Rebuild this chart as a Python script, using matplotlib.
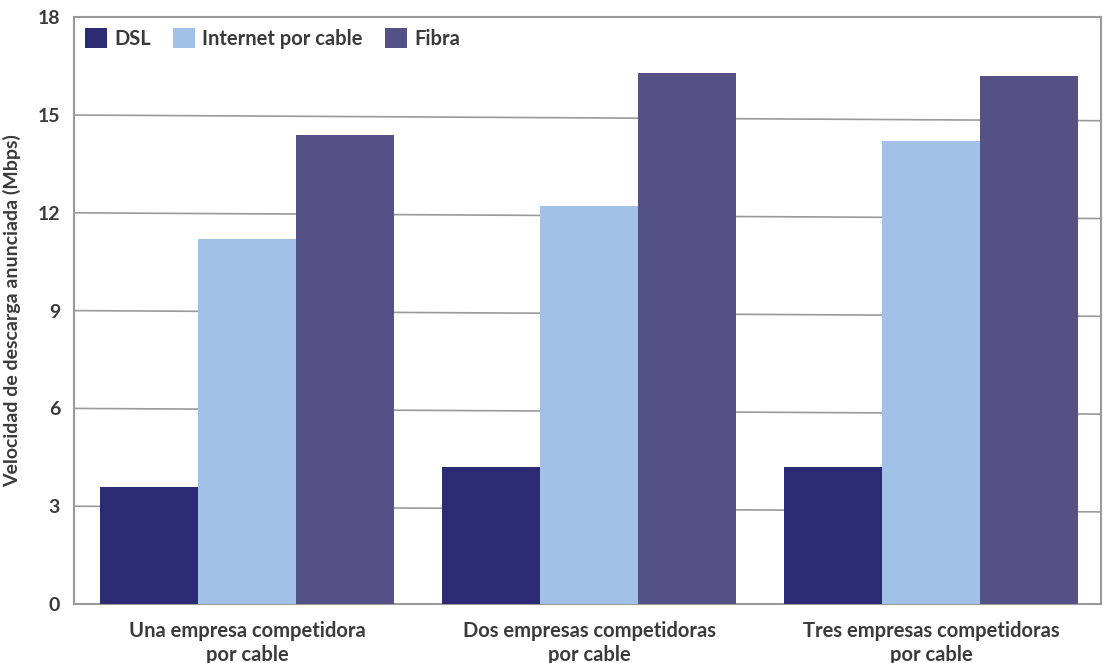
import numpy as np
import matplotlib.pyplot as plt

plt.rcParams['font.family'] = ['Lato', 'DejaVu Sans']
plt.rcParams['font.weight'] = 'bold'
plt.rcParams['axes.labelweight'] = 'bold'

groups = ["Una empresa competidora\npor cable",
          "Dos empresas competidoras\npor cable",
          "Tres empresas competidoras\npor cable"]
series = ["DSL", "Internet por cable", "Fibra"]
dsl = [3.6, 4.2, 4.2]
cable = [11.2, 12.2, 14.2]
fibra = [14.4, 16.3, 16.2]
yticks = [0, 3, 6, 9, 12, 15, 18]

colors = ["#2b2a72", "#a2c1e6", "#545186"]
text_color = "#3a3a3a"
grid_color = "#9a9a9a"

fig = plt.figure(figsize=(11.04, 6.63), dpi=100)
ax = fig.add_axes([0.067, 0.089, 0.9303, 0.885])

x = np.arange(len(groups))
w = 0.2865
for i, (vals, name, c) in enumerate(zip([dsl, cable, fibra], series, colors)):
    ax.bar(x + (i - 1) * w, vals, width=w, color=c, label=name, zorder=3)

# horizontal guide lines (drawn slightly tilted)
tr = ax.get_yaxis_transform()
for v in yticks[1:-1]:
    ax.plot([0, 1], [v, v - 0.175], transform=tr, color=grid_color,
            lw=1.2, zorder=1, clip_on=False)

ax.set_xlim(-0.506, 2.497)
ax.set_ylim(0, 18)
ax.set_yticks(yticks)
ax.set_xticks(x)
ax.set_xticklabels(groups, fontsize=14.5, color=text_color, linespacing=1.25,
                   fontweight='bold')
ax.tick_params(axis='y', length=0, pad=10, labelsize=14, labelcolor=text_color)
ax.tick_params(axis='x', length=0, pad=12)
for s in ax.spines.values():
    s.set_color(grid_color)
    s.set_linewidth(1.5)

ax.set_ylabel("Velocidad de descarga anunciada (Mbps)", fontsize=14,
              color=text_color, labelpad=12)

ax.legend(loc='upper left', bbox_to_anchor=(0.0, 1.0), ncol=3, frameon=False,
          prop={'size': 14.5, 'weight': 'bold'}, handlelength=1.1,
          handleheight=1.1, handletextpad=0.35, columnspacing=1.1,
          borderaxespad=0.15, labelcolor=text_color)

fig.savefig("out.png", dpi=100)
